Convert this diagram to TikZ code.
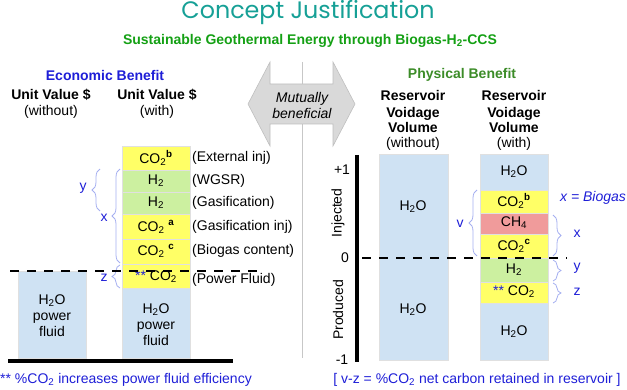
\documentclass[tikz,border=0pt]{standalone}
\usepackage{fontspec}
\setmainfont{Liberation Sans}
\newfontfamily\titlefont{Poppins}
\usetikzlibrary{decorations.pathreplacing}
\definecolor{titleteal}{RGB}{22,160,150}
\definecolor{subgreen}{RGB}{20,160,20}
\definecolor{physgreen}{RGB}{60,140,40}
\definecolor{econblue}{RGB}{30,30,215}
\definecolor{fillblue}{RGB}{207,226,243}
\definecolor{fillyellow}{RGB}{255,255,102}
\definecolor{fillgreen}{RGB}{204,240,160}
\definecolor{fillred}{RGB}{240,155,155}
\definecolor{bracecol}{RGB}{165,175,240}
\definecolor{arrowgray}{RGB}{217,217,217}
\begin{document}
\begin{tikzpicture}[x=1pt,y=-1pt,
  txt/.style={font=\fontsize{14}{16}\selectfont, inner sep=0pt},
  btxt/.style={font=\fontsize{14}{16}\selectfont\bfseries, inner sep=0pt, align=center},
  cell/.style={draw=black!12, line width=0.6pt},
  bluebrace/.style={draw=bracecol, line width=0.8pt, decorate, decoration={brace, amplitude=8pt}},
  bracelbl/.style={font=\fontsize{14}{16}\selectfont, text=econblue, inner sep=0pt},
  thickdash/.style={line width=2.3pt, dash pattern=on 9pt off 8pt},
  lbl/.style={font=\fontsize{14}{16}\selectfont, inner sep=0pt, anchor=west}
]
\useasboundingbox (0,0) rectangle (627,390);

% title
\node[inner sep=0, text=titleteal, font=\titlefont\fontsize{23.8}{28}\selectfont] (title) at (308,13) {Concept Justification};
\node[inner sep=0, text=subgreen, font=\fontsize{14}{16}\selectfont\bfseries] (subtitle) at (310,41) {Sustainable Geothermal Energy through Biogas-H\textsubscript{2}-CCS};

% divider and arrow
\draw[black!22, line width=0.8pt] (302,62) coordinate (dtop) -- (302,358) coordinate (dbot);
\draw[fill=arrowgray, draw=black!25, line width=0.6pt]
  (248,104) -- (270,62) -- (270,84) -- (333,84) -- (333,62) -- (355,104) -- (333,146) -- (333,124) -- (270,124) -- (270,146) -- cycle;
\node[txt, font=\fontsize{14}{16}\selectfont\itshape, align=center] (mutual) at (302,105) {Mutually\\beneficial};

% ===== Economic side =====
\node[btxt, text=econblue] (econ) at (105,75) {Economic Benefit};
\node[btxt] (uv1) at (51,95) {Unit Value \$};
\node[txt] (uv1b) at (51,112) {(without)};
\node[btxt] (uv2) at (157,95) {Unit Value \$};
\node[txt] (uv2b) at (157,112) {(with)};

% without column
\path[cell, fill=fillblue] (18,271) rectangle (86,358);
\node[txt, align=center] (w1) at (52,316) {H\textsubscript{2}O\\power\\fluid};

% with column
\path[cell, fill=fillyellow] (122,146) rectangle (190,170);
\path[cell, fill=fillgreen]  (122,170) rectangle (190,192);
\path[cell, fill=fillgreen]  (122,192) rectangle (190,214);
\path[cell, fill=fillyellow] (122,214) rectangle (190,239);
\path[cell, fill=fillyellow] (122,239) rectangle (190,264);
\path[cell, fill=fillyellow] (122,264) rectangle (190,288);
\path[cell, fill=fillblue]   (122,288) rectangle (190,358);
\node[txt] (c1) at (156,158) {CO\textsubscript{2}\textsuperscript{\textbf{b}}};
\node[txt] (c2) at (156,181) {H\textsubscript{2}};
\node[txt] (c3) at (156,203) {H\textsubscript{2}};
\node[txt] (c4) at (156,227) {CO\textsubscript{2} \textsuperscript{\textbf{a}}};
\node[txt] (c5) at (156,251) {CO\textsubscript{2} \textsuperscript{\textbf{c}}};
\node[txt] (c6) at (156,277) {\textcolor{econblue}{**} CO\textsubscript{2}};
\node[txt, align=center] (c7) at (156,325) {H\textsubscript{2}O\\power\\fluid};

\node[lbl] (l1) at (192,158) {(External inj)};
\node[lbl] (l2) at (192,181) {(WGSR)};
\node[lbl] (l3) at (192,203) {(Gasification)};
\node[lbl] (l4) at (192,227) {(Gasification inj)};
\node[lbl] (l5) at (192,251) {(Biogas content)};
\node[lbl] (l6) at (192,280) {(Power Fluid)};

% braces left
\draw[bluebrace] (100,211) -- (100,169);
\draw[bluebrace] (120,263) -- (120,169);
\draw[bluebrace] (120,288) -- (120,265);
\node[bracelbl] (ly) at (83,188) {y};
\node[bracelbl] (lx) at (104,218) {x};
\node[bracelbl] (lz) at (104,278) {z};

\draw[thickdash] (10,271) coordinate (ld1) -- (260,271) coordinate (ld2);
\draw[line width=4pt] (8,361) coordinate (lb1) -- (233,361) coordinate (lb2);

\node[txt, anchor=west, text=econblue] (note1) at (0,380) {** \%CO\textsubscript{2} increases power fluid efficiency};

% ===== Physical side =====
\node[btxt, text=physgreen] (phys) at (462,75) {Physical Benefit};
\node[txt, align=center] (rv1) at (413,120) {\textbf{Reservoir}\\[1pt]\textbf{Voidage}\\[-1pt]\textbf{Volume}\\[-1pt](without)};
\node[txt, align=center] (rv2) at (514,120) {\textbf{Reservoir}\\[1pt]\textbf{Voidage}\\[-1pt]\textbf{Volume}\\[-1pt](with)};

\draw[line width=3.5pt] (357,155) coordinate (ax1) -- (357,362) coordinate (ax2);
\node[txt] (p1) at (342,170) {+1};
\node[txt] (p0) at (345,258) {0};
\node[txt] (pm1) at (342,360) {-1};
\node[txt, rotate=90] (inj) at (338,213) {Injected};
\node[txt, rotate=90] (prod) at (338,310) {Produced};

% without column
\path[cell, fill=fillblue] (379,154) rectangle (448,360);
\node[txt] (r1) at (413,207) {H\textsubscript{2}O};
\node[txt] (r2) at (413,310) {H\textsubscript{2}O};

% with column
\path[cell, fill=fillblue]   (480,154) rectangle (548,190);
\path[cell, fill=fillyellow] (480,190) rectangle (548,213);
\path[cell, fill=fillred]    (480,213) rectangle (548,234);
\path[cell, fill=fillyellow] (480,234) rectangle (548,258);
\path[cell, fill=fillgreen]  (480,258) rectangle (548,282);
\path[cell, fill=fillyellow] (480,282) rectangle (548,303);
\path[cell, fill=fillblue]   (480,303) rectangle (548,360);
\node[txt] (s1) at (514,172) {H\textsubscript{2}O};
\node[txt] (s2) at (514,201) {CO\textsubscript{2}\textsuperscript{\textbf{b}}};
\node[txt] (s3) at (514,223) {CH\textsubscript{4}};
\node[txt] (s4) at (514,246) {CO\textsubscript{2}\textsuperscript{\textbf{c}}};
\node[txt] (s5) at (514,270) {H\textsubscript{2}};
\node[txt] (s6) at (514,292) {\textcolor{econblue}{**} CO\textsubscript{2}};
\node[txt] (s7) at (514,332) {H\textsubscript{2}O};

\draw[thickdash] (362,258) coordinate (rd1) -- (567,258) coordinate (rd2);

% braces right
\draw[bluebrace] (477,256) -- (477,190);
\draw[bluebrace] (553,215) -- (553,256);
\draw[bluebrace] (553,260) -- (553,281);
\draw[bluebrace] (553,283) -- (553,303);
\node[bracelbl] (rv) at (460,224) {v};
\node[bracelbl] (rx) at (577,234) {x};
\node[bracelbl] (ry) at (577,268) {y};
\node[bracelbl] (rz) at (577,292) {z};
\node[txt, text=econblue, font=\fontsize{14}{16}\selectfont\itshape] (bio) at (593,198) {x = Biogas};

\node[txt, text=econblue] (note2) at (477,380) {[ v-z = \%CO\textsubscript{2} net carbon retained in reservoir ]};
\end{tikzpicture}
\end{document}
